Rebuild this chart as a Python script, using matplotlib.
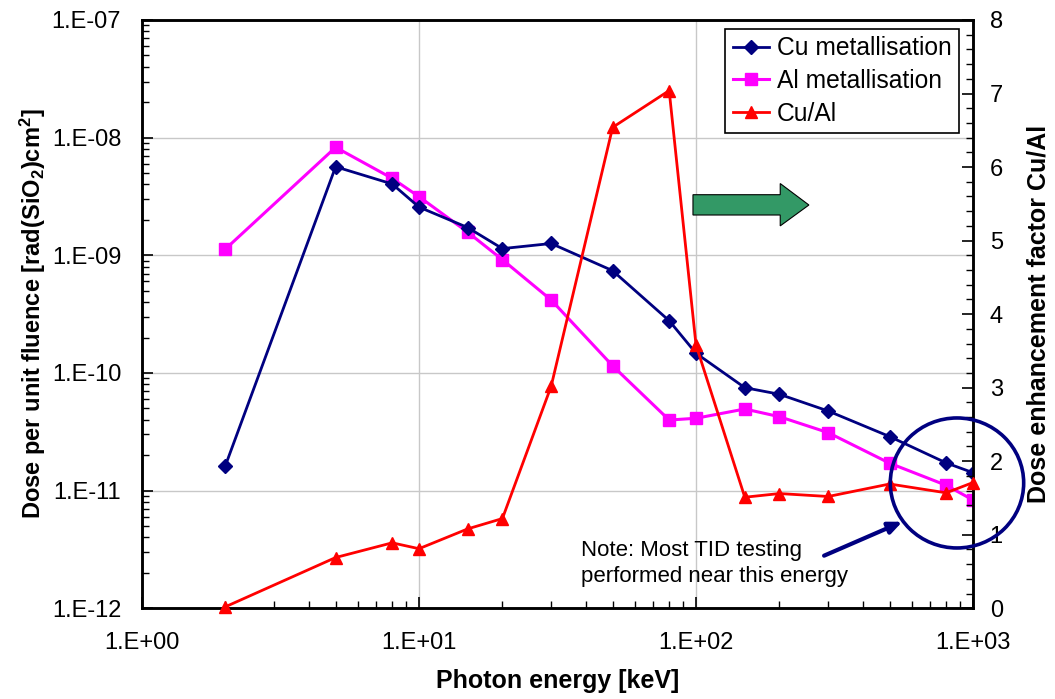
import numpy as np
import matplotlib
matplotlib.use("Agg")
import matplotlib.pyplot as plt
from matplotlib.ticker import FuncFormatter, LogLocator, MultipleLocator, NullFormatter
from matplotlib.patches import Polygon, Ellipse

plt.rcParams["font.family"] = ["Liberation Sans", "DejaVu Sans"]
plt.rcParams["mathtext.fontset"] = "custom"
plt.rcParams["mathtext.rm"] = "Liberation Sans:bold"
plt.rcParams["mathtext.default"] = "rm"

# photon energy [keV]
energy = [2, 5, 8, 10, 15, 20, 30, 50, 80, 100, 150, 200, 300, 500, 800, 1000]

# dose per unit fluence [rad(SiO2) cm^2]
dose_cu = [1.63e-11, 5.66e-9, 4.04e-9, 2.57e-9, 1.72e-9, 1.14e-9, 1.26e-9, 7.4e-10,
           2.78e-10, 1.47e-10, 7.5e-11, 6.59e-11, 4.75e-11, 2.88e-11, 1.72e-11, 1.42e-11]
dose_al = [1.13e-9, 8.28e-9, 4.51e-9, 3.15e-9, 1.57e-9, 9.18e-10, 4.17e-10, 1.15e-10,
           3.98e-11, 4.12e-11, 4.94e-11, 4.25e-11, 3.11e-11, 1.71e-11, 1.11e-11, 8.32e-12]

# dose enhancement factor Cu/Al
enhancement = [0.02, 0.69, 0.89, 0.81, 1.08, 1.22, 3.02, 6.54, 7.04, 3.58,
               1.51, 1.56, 1.52, 1.69, 1.57, 1.71]

NAVY = "#000080"
MAGENTA = "#FF00FF"
RED = "#FF0000"

fig = plt.figure(figsize=(10.55, 6.99), dpi=100)
ax = fig.add_axes([0.1346, 0.1298, 0.7877, 0.8416])
ax2 = ax.twinx()

ax.set_xscale("log")
ax.set_yscale("log")
ax.set_xlim(1, 1000)
ax.set_ylim(1e-12, 1e-7)
ax2.set_ylim(0, 8)

l_cu, = ax.plot(energy, dose_cu, color=NAVY, lw=2.0, marker="D", ms=7,
                label="Cu metallisation", zorder=3)
l_al, = ax.plot(energy, dose_al, color=MAGENTA, lw=2.2, marker="s", ms=8.5,
                label="Al metallisation", zorder=2)
l_r, = ax2.plot(energy, enhancement, color=RED, lw=2.0, marker="^", ms=9,
                label="Cu/Al", zorder=3, clip_on=False)

# grid
ax.grid(True, which="major", color="#c8c8c8", lw=1.0, zorder=0)
ax.set_axisbelow(True)

exp_fmt = FuncFormatter(lambda v, p: "1.E{:+03d}".format(int(round(np.log10(v)))))
ax.xaxis.set_major_formatter(exp_fmt)
ax.yaxis.set_major_formatter(exp_fmt)
ax.xaxis.set_minor_locator(LogLocator(base=10, subs=np.arange(2, 10), numticks=20))
ax.yaxis.set_minor_locator(LogLocator(base=10, subs=np.arange(2, 10), numticks=20))
ax.xaxis.set_minor_formatter(NullFormatter())
ax.yaxis.set_minor_formatter(NullFormatter())
ax2.yaxis.set_major_locator(MultipleLocator(1))
ax2.yaxis.set_minor_locator(MultipleLocator(0.2))

ax.tick_params(axis="both", which="major", direction="in", length=8, width=1.2,
               labelsize=17, color="black")
ax.tick_params(axis="both", which="minor", direction="in", length=5, width=1.0)
ax.tick_params(axis="y", which="both", right=False, pad=15)
ax.tick_params(axis="x", which="both", top=False, pad=17)
ax2.tick_params(axis="y", which="major", direction="in", length=8, width=1.2,
                labelsize=17, pad=12)
ax2.tick_params(axis="y", which="minor", direction="in", length=5, width=1.0)

for a in (ax, ax2):
    for s in a.spines.values():
        s.set_linewidth(1.8)
        s.set_color("black")

ax.set_xlabel("Photon energy [keV]", fontsize=18, fontweight="bold", labelpad=11)
ax.set_ylabel(r"Dose per unit fluence [rad(SiO$_2$)cm$^2$]", fontsize=17,
              fontweight="bold", labelpad=2.5)
ax2.set_ylabel("Dose enhancement factor Cu/Al", fontsize=18, fontweight="bold",
               labelpad=17)

leg = ax2.legend(handles=[l_cu, l_al, l_r], loc="upper right",
                 bbox_to_anchor=(0.983, 0.985), borderaxespad=0, fontsize=17.7,
                 frameon=True, fancybox=False, framealpha=1, edgecolor="black",
                 handlelength=1.5, handletextpad=0.3, labelspacing=0.36,
                 borderpad=0.3)
leg.get_frame().set_linewidth(1.2)

# green arrow pointing towards the right-hand axis
arrow_pts = [(0.663, 0.6685), (0.768, 0.6685), (0.768, 0.650), (0.8025, 0.6855),
             (0.768, 0.722), (0.768, 0.703), (0.663, 0.703)]
ax2.add_patch(Polygon(arrow_pts, closed=True, transform=ax2.transAxes,
                      facecolor="#339966", edgecolor="black", lw=0.8, zorder=5))

# circle around the 1 MeV region
ax2.add_patch(Ellipse((0.9807, 0.213), 0.1605, 0.221, transform=ax2.transAxes,
                      fill=False, edgecolor=NAVY, lw=2.6, clip_on=False, zorder=6))

ax2.annotate("", xy=(0.918, 0.149), xytext=(0.8177, 0.0875),
             xycoords="axes fraction", textcoords="axes fraction",
             arrowprops=dict(arrowstyle="-|>,head_length=0.8,head_width=0.35",
                             color=NAVY, lw=3), zorder=6)
ax2.text(0.528, 0.1165, "Note: Most TID testing\nperformed near this energy",
         transform=ax2.transAxes, fontsize=16, va="top", ha="left",
         linespacing=1.35, zorder=6)

fig.savefig("out.png", dpi=100)
